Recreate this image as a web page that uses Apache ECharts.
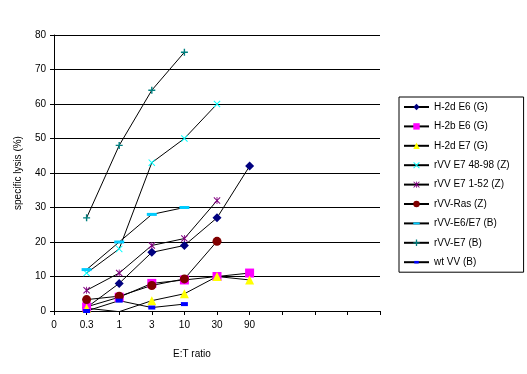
<!DOCTYPE html>
<html><head><meta charset="utf-8">
<script src="https://cdn.jsdelivr.net/npm/echarts@6/dist/echarts.min.js"></script>
<style>html,body{margin:0;padding:0;background:#fff}#c{width:527px;height:374px}</style>
</head><body><div id="c"></div>
<script>
// x tick labels at positions 0..10
var xTickLabels = ['0', '0.3', '1', '3', '10', '30', '90', '', '', '', ''];
// series values at E:T positions 1..6 (0.3,1,3,10,30,90)
var seriesNames = ['H-2d E6 (G)', 'H-2b E6 (G)', 'H-2d E7 (G)', 'rVV E7 48-98 (Z)', 'rVV E7 1-52 (Z)', 'rVV-Ras (Z)', 'rVV-E6/E7 (B)', 'rVV-E7 (B)', 'wt VV (B)'];
var h2dE6 = [1, 8, 17, 19, 27, 42];
var h2bE6 = [1.2, 4, 8, 9, 10, 11];
var h2dE7 = [0.8, -0.2, 3, 5, 10, 9];
var rvvE7_48_98 = [11, 18, 43, 50, 60];
var rvvE7_1_52 = [6, 11, 19, 21, 32];
var rvvRas = [3.3, 4.3, 7.4, 9.3, 20.2];
var rvvE6E7 = [12, 20, 28, 30];
var rvvE7 = [27, 48, 64, 75];
var wtVV = [0, 3, 1, 2];
var values = [h2dE6, h2bE6, h2dE7, rvvE7_48_98, rvvE7_1_52, rvvRas, rvvE6E7, rvvE7, wtVV];
var colors = ['#000080', '#FF00FF', '#FFFF00', '#00FFFF', '#800080', '#800000', '#00CCFF', '#008080', '#0000FF'];

var plusPath = 'path://M4,0H6V4H10V6H6V10H4V6H0V4H4Z';
var xPath = 'path://M0,1L1,0L5,4L9,0L10,1L6,5L10,9L9,10L5,6L1,10L0,9L4,5Z';
var starPath = 'path://M0,1L1,0L5,4L9,0L10,1L6,5L10,9L9,10L5,6L1,10L0,9L4,5Z M4.4,0H5.6V10H4.4Z';
var dashPath = 'path://M0,0M0,3.5H10V6.5H0ZM10,10';
var smallRectPath = 'path://M0,0M1.5,3H8.5V7H1.5ZM10,10';
var symbols = ['diamond', 'rect', 'triangle', xPath, starPath, 'circle', dashPath, plusPath, smallRectPath];
var sizes = [9, 9, 9, 7, 7, 9, 10, 7, 10];

var series = seriesNames.map(function (n, i) {
  return {
    name: n, type: 'line',
    data: values[i].map(function (v, j) { return [j + 1, v]; }),
    symbol: symbols[i], symbolSize: sizes[i], showAllSymbol: true,
    lineStyle: { color: '#000', width: 1 },
    itemStyle: { color: colors[i] },
    emphasis: { disabled: true },
    animation: false
  };
});

var chart = echarts.init(document.getElementById('c'), null, { renderer: 'canvas' });
chart.setOption({
  animation: false,
  textStyle: { fontFamily: 'Liberation Sans, Arial, sans-serif' },
  grid: { left: 54, top: 35, width: 326, height: 276, containLabel: false },
  xAxis: {
    type: 'value', min: 0, max: 10, interval: 1,
    axisLine: { onZero: false, lineStyle: { color: '#000', width: 1 } },
    axisTick: { show: true, length: 4, lineStyle: { color: '#000' } },
    axisLabel: { color: '#000', fontSize: 10, margin: 9, formatter: function (v) { return xTickLabels[Math.round(v)] || ''; } },
    splitLine: { show: false }
  },
  yAxis: {
    type: 'value', min: 0, max: 80, interval: 10,
    name: 'specific lysis (%)', nameLocation: 'middle', nameGap: 31, nameRotate: 90,
    nameTextStyle: { color: '#000', fontSize: 10 },
    axisLine: { show: true, lineStyle: { color: '#000', width: 1 } },
    axisTick: { show: true, length: 4, lineStyle: { color: '#000' } },
    axisLabel: { color: '#000', fontSize: 10, margin: 8 },
    splitLine: { show: true, lineStyle: { color: '#000', width: 1 } }
  },
  legend: {
    orient: 'vertical', left: 399, top: 97,
    padding: [5, 14, 5, 4], itemGap: 9.4, itemWidth: 25, itemHeight: 8,
    backgroundColor: '#fff', borderColor: '#000', borderWidth: 1,
    textStyle: { color: '#000', fontSize: 10 },
    data: seriesNames
  },
  graphic: [{
    type: 'text', left: 173, top: 349,
    style: { text: 'E:T ratio', fill: '#000', fontSize: 10, fontFamily: 'Liberation Sans, Arial, sans-serif' }
  }],
  series: series
});
</script>
</body></html>
